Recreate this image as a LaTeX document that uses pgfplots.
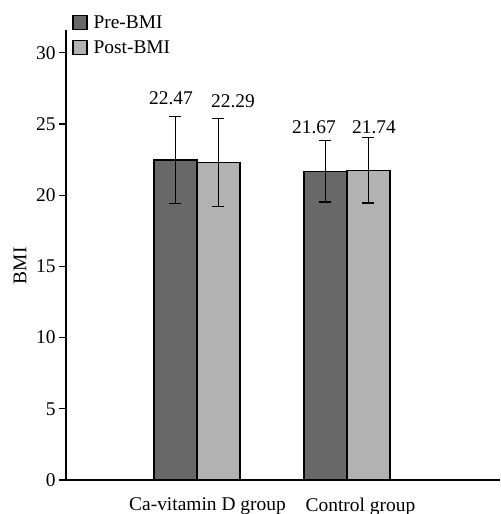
\documentclass[border=0pt]{standalone}
\usepackage{pgfplots}
\pgfplotsset{compat=1.18}
\usepackage{fontspec}
\setmainfont{Liberation Serif}
\definecolor{preC}{RGB}{104,104,104}
\definecolor{postC}{RGB}{178,178,178}
\begin{document}
\begin{tikzpicture}
\path[use as bounding box] (-66bp,-34bp) rectangle (435bp,480bp);
\begin{axis}[
  scale only axis,
  width=434bp, height=450bp,
  xmin=-0.873, xmax=2.02,
  ymin=0, ymax=31.6,
  axis x line*=bottom, axis y line*=left,
  axis line style={line width=1.6pt},
  ytick={0,5,...,30},
  xtick={0.07,1.09},
  xticklabels={Ca-vitamin D group, Control group},
  major x tick style={draw=none},
  x tick label style={yshift=-7bp},
  tick align=outside,
  major tick length=7bp,
  y tick style={line width=1.2pt, black},
  tick label style={font=\fontsize{19.5}{22}\selectfont},
  /pgf/number format/assume math mode=true,
  ylabel={BMI},
  ylabel style={font=\fontsize{19.5}{22}\selectfont, at={(axis description cs:-0.106,0.476)}, anchor=center},
  ybar=0pt, bar width=43bp,
  legend style={at={(axis description cs:0.014,1.036)}, anchor=north west, draw=none, fill=none, inner sep=0pt,
    font=\fontsize{19.5}{22}\selectfont, row sep=8bp, legend cell align=left,
    nodes={inner xsep=6bp, inner ysep=1.5bp}},
  legend image code/.code={\draw[#1, draw=black, line width=1.3pt] (0bp,-7bp) rectangle (14bp,7bp);},
  error bars/error bar style={line width=1.4pt, black},
  error bars/error mark options={rotate=90, mark size=6bp, line width=1.4pt},
]
\addplot[fill=preC, draw=black, line width=1.5pt, error bars/.cd, y dir=both, y explicit]
  coordinates {(0,22.47) +- (0,3.05) (1,21.67) +- (0,2.15)};
\addplot[fill=postC, draw=black, line width=1.5pt, error bars/.cd, y dir=both, y explicit]
  coordinates {(0,22.29) +- (0,3.1) (1,21.74) +- (0,2.3)};
\legend{Pre-BMI, Post-BMI}
\node[font=\fontsize{19.5}{22}\selectfont] at (axis cs:-0.173,26.8) {22.47};
\node[font=\fontsize{19.5}{22}\selectfont] at (axis cs:0.24,26.6) {22.29};
\node[font=\fontsize{19.5}{22}\selectfont] at (axis cs:0.78,24.78) {21.67};
\node[font=\fontsize{19.5}{22}\selectfont] at (axis cs:1.18,24.78) {21.74};
\end{axis}
\end{tikzpicture}
\end{document}
